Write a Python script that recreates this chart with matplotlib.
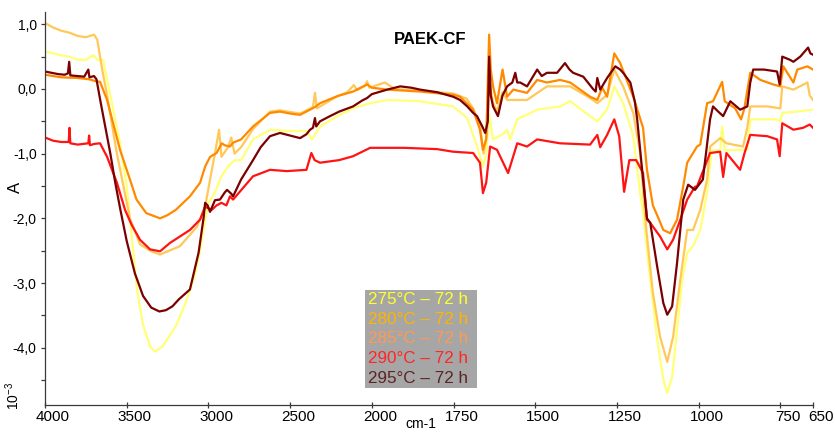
import numpy as np
import matplotlib
matplotlib.use("Agg")
import matplotlib.pyplot as plt
from matplotlib.patches import Rectangle
from matplotlib.transforms import ScaledTranslation

# ---------------- data (wavenumber cm-1, absorbance x10^-3) ----------------
labels = ["275°C \u2013 72 h", "280°C \u2013 72 h", "285°C \u2013 72 h",
          "290°C \u2013 72 h", "295°C \u2013 72 h"]
line_colors = ["#ffff78", "#ffc858", "#ff8a00", "#ff1414", "#7c0000"]
text_colors = ["#ffff30", "#ffb400", "#ff9a55", "#ff2626", "#5c2424"]

wn_275 = [4000, 3950, 3900, 3850, 3800, 3750, 3720, 3700, 3680, 3645, 3600, 3541, 3500, 3480, 3437,
          3400, 3357, 3327, 3280, 3200, 3140, 3080, 3050, 3020, 3000, 2960, 2920, 2880, 2840, 2800,
          2727, 2623, 2520, 2400, 2365, 2317, 2210, 2115, 2010, 1950, 1852, 1751, 1708, 1678, 1660,
          1650, 1641, 1629, 1600, 1586, 1577, 1555, 1494, 1424, 1393, 1332, 1310, 1280, 1258, 1231,
          1200, 1179, 1170, 1148, 1127, 1108, 1096, 1081, 1066, 1050, 1035, 1017, 995, 974, 960,
          934, 928, 920, 873, 851, 842, 760, 750, 744, 700, 650]
a_275 = [0.58, 0.55, 0.52, 0.50, 0.45, 0.45, 0.50, 0.52, 0.45, 0.45, -0.10, -0.84, -1.50, -2.00, -3.10,
         -3.65, -3.98, -4.06, -3.98, -3.67, -3.31, -2.84, -2.48, -2.02, -1.76, -1.60, -1.35, -1.20, -1.10, -1.10,
         -0.78, -0.63, -0.65, -0.65, -0.78, -0.58, -0.42, -0.30, -0.22, -0.17, -0.19, -0.27, -0.45, -0.89, -1.20,
         -1.00, -0.40, -0.78, -0.70, -0.63, -0.78, -0.47, -0.32, -0.27, -0.19, -0.42, -0.50, -0.32, 0.04, -0.22,
         -0.73, -1.60, -1.92, -2.95, -3.87, -4.49, -4.70, -4.45, -3.72, -2.95, -2.53, -2.43, -2.18, -1.60, -0.95,
         -0.95, -0.58, -0.95, -0.94, -0.94, -0.47, -0.47, -0.50, -0.37, -0.35, -0.32]

wn_280 = [4000, 3950, 3900, 3850, 3800, 3750, 3700, 3680, 3650, 3620, 3560, 3480, 3419, 3357, 3296,
          3174, 3070, 3020, 2990, 2960, 2935, 2920, 2880, 2860, 2840, 2800, 2727, 2623, 2562, 2439,
          2360, 2348, 2336, 2256, 2200, 2150, 2110, 2090, 2040, 2029, 2015, 1960, 1930, 1852, 1751,
          1710, 1690, 1669, 1658, 1648, 1641, 1630, 1617, 1600, 1586, 1525, 1464, 1393, 1332, 1310,
          1280, 1258, 1231, 1200, 1179, 1160, 1140, 1118, 1096, 1078, 1056, 1035, 1017, 995, 974,
          965, 934, 915, 864, 851, 842, 790, 750, 744, 710, 667, 660, 650]
a_280 = [1.02, 0.95, 0.90, 0.87, 0.82, 0.80, 0.84, 0.76, 0.30, -0.10, -1.00, -2.00, -2.40, -2.50, -2.56,
         -2.43, -2.13, -1.82, -1.40, -1.00, -0.63, -1.05, -0.90, -0.75, -1.00, -0.90, -0.62, -0.35, -0.33, -0.38,
         -0.28, -0.06, -0.30, -0.18, -0.10, -0.05, 0.06, -0.02, 0.05, 0.12, 0.02, 0.10, 0.00, -0.03, -0.07,
         -0.15, -0.30, -0.55, -1.00, -0.70, 0.15, -0.20, -0.35, -0.05, -0.17, -0.17, 0.04, 0.04, -0.14, -0.22,
         -0.09, 0.30, 0.04, -0.37, -0.99, -2.18, -3.15, -3.83, -4.22, -3.83, -2.95, -2.18, -2.18, -1.87, -1.40,
         -0.89, -0.76, -0.84, -0.89, -0.60, -0.27, -0.27, -0.30, 0.04, -0.01, 0.10, -0.10, -0.17]

wn_285 = [4000, 3950, 3900, 3800, 3730, 3690, 3663, 3620, 3541, 3480, 3440, 3380, 3296, 3250, 3200,
          3113, 3051, 3020, 2990, 2950, 2918, 2900, 2868, 2849, 2800, 2727, 2623, 2562, 2500, 2439,
          2378, 2348, 2317, 2210, 2115, 2029, 2000, 1953, 1852, 1751, 1730, 1690, 1669, 1660, 1650,
          1641, 1636, 1629, 1617, 1600, 1586, 1567, 1525, 1494, 1464, 1424, 1393, 1332, 1310, 1295,
          1280, 1258, 1240, 1200, 1170, 1158, 1140, 1127, 1108, 1087, 1066, 1047, 1035, 1005, 995,
          974, 956, 928, 920, 888, 870, 860, 842, 811, 772, 750, 741, 710, 698, 667, 650]
a_285 = [0.22, 0.20, 0.18, 0.17, 0.15, 0.12, 0.11, -0.17, -0.94, -1.40, -1.71, -1.92, -2.00, -1.95, -1.87,
         -1.66, -1.45, -1.20, -1.05, -0.99, -0.84, -0.87, -0.89, -0.83, -0.78, -0.58, -0.37, -0.35, -0.38, -0.40,
         -0.32, -0.28, -0.22, -0.11, -0.04, 0.07, 0.02, -0.01, -0.04, -0.09, -0.12, -0.32, -0.63, -0.94, -0.78,
         0.84, 0.30, 0.04, -0.22, 0.30, -0.12, -0.01, -0.06, 0.14, 0.10, 0.14, 0.10, -0.12, -0.17, 0.02,
         -0.12, 0.55, 0.40, -0.12, -0.60, -1.25, -1.80, -1.95, -2.18, -2.23, -2.02, -1.50, -1.14, -0.89, -0.86,
         -0.22, -0.19, 0.11, -0.19, -0.30, -0.47, -0.30, 0.25, 0.14, 0.07, 0.04, 0.35, 0.10, 0.30, 0.35, 0.30]

wn_290 = [4000, 3950, 3900, 3855, 3850, 3845, 3800, 3735, 3730, 3725, 3700, 3663, 3620, 3560, 3510,
          3470, 3419, 3357, 3296, 3235, 3113, 3051, 3020, 2980, 2950, 2920, 2890, 2868, 2849, 2727,
          2623, 2520, 2400, 2370, 2350, 2317, 2200, 2115, 2010, 1900, 1800, 1751, 1690, 1669, 1660,
          1650, 1638, 1617, 1583, 1555, 1525, 1494, 1424, 1332, 1310, 1301, 1280, 1258, 1243, 1228,
          1212, 1191, 1170, 1158, 1148, 1118, 1096, 1078, 1056, 1035, 1011, 1005, 965, 934, 925,
          915, 873, 860, 842, 790, 760, 752, 744, 710, 680, 660, 650]
a_290 = [-0.75, -0.80, -0.82, -0.82, -0.60, -0.84, -0.86, -0.84, -0.72, -0.87, -0.85, -0.84, -1.05, -1.45, -1.87,
         -2.10, -2.33, -2.48, -2.51, -2.38, -2.18, -2.02, -1.82, -1.87, -1.80, -1.76, -1.80, -1.66, -1.71, -1.35,
         -1.25, -1.27, -1.25, -0.99, -1.10, -1.14, -1.10, -1.04, -0.91, -0.91, -0.93, -0.97, -0.99, -1.14, -1.61,
         -1.45, -0.89, -0.94, -1.30, -0.84, -0.89, -0.78, -0.84, -0.86, -0.71, -0.90, -0.71, -0.47, -0.73, -1.59,
         -1.10, -1.10, -1.30, -2.02, -2.07, -2.28, -2.48, -2.33, -2.02, -1.71, -1.51, -1.51, -0.99, -0.97, -1.36,
         -0.99, -1.25, -1.00, -0.71, -0.73, -0.78, -1.04, -0.53, -0.63, -0.60, -0.55, -0.60]

wn_295 = [4000, 3960, 3920, 3880, 3860, 3852, 3845, 3800, 3760, 3735, 3728, 3700, 3685, 3660, 3630,
          3600, 3570, 3540, 3500, 3450, 3400, 3350, 3300, 3260, 3220, 3180, 3113, 3060, 3030, 3020,
          3005, 2990, 2960, 2929, 2900, 2886, 2860, 2849, 2800, 2727, 2680, 2623, 2562, 2500, 2439,
          2400, 2378, 2360, 2348, 2340, 2317, 2256, 2200, 2115, 2060, 2029, 2000, 1953, 1913, 1880,
          1852, 1800, 1751, 1730, 1708, 1690, 1678, 1662, 1653, 1645, 1641, 1636, 1629, 1614, 1600,
          1586, 1570, 1561, 1555, 1546, 1525, 1494, 1480, 1464, 1433, 1409, 1395, 1384, 1353, 1323,
          1315, 1310, 1301, 1280, 1255, 1240, 1231, 1209, 1195, 1188, 1170, 1158, 1148, 1127, 1108,
          1096, 1081, 1066, 1047, 1032, 1011, 987, 980, 965, 956, 940, 925, 903, 873, 851,
          842, 833, 800, 760, 752, 744, 720, 710, 689, 665, 658, 650]
a_295 = [0.27, 0.25, 0.23, 0.22, 0.24, 0.42, 0.21, 0.20, 0.19, 0.30, 0.18, 0.20, 0.15, -0.20, -0.60,
         -1.00, -1.45, -1.85, -2.35, -2.85, -3.20, -3.38, -3.44, -3.42, -3.36, -3.25, -3.10, -2.53, -2.00, -1.76,
         -1.80, -1.90, -1.72, -1.71, -1.60, -1.56, -1.62, -1.66, -1.40, -1.10, -0.90, -0.73, -0.68, -0.72, -0.76,
         -0.70, -0.63, -0.60, -0.45, -0.58, -0.50, -0.42, -0.35, -0.27, -0.18, -0.14, -0.08, -0.01, 0.04, 0.02,
         -0.01, -0.05, -0.12, -0.17, -0.27, -0.37, -0.42, -0.58, -0.68, -0.50, 0.50, -0.10, -0.27, -0.42, -0.10,
         0.04, 0.10, 0.25, 0.10, 0.10, 0.04, 0.30, 0.20, 0.25, 0.25, 0.40, 0.30, 0.25, 0.19, 0.00,
         -0.04, 0.17, -0.01, 0.17, 0.35, 0.30, 0.25, 0.10, -0.20, -0.47, -1.40, -2.00, -2.07, -2.74, -3.31,
         -3.49, -3.36, -2.69, -1.71, -1.48, -1.56, -1.40, -1.10, -0.47, -0.27, -0.35, -0.42, -0.19, -0.32, -0.27,
         0.10, 0.30, 0.30, 0.27, 0.07, 0.50, 0.45, 0.42, 0.50, 0.64, 0.55, 0.53]

series_wn = [wn_275, wn_280, wn_285, wn_290, wn_295]
series_a = [a_275, a_280, a_285, a_290, a_295]

xticks = [4000, 3500, 3000, 2500, 2000, 1750, 1500, 1250, 1000, 750, 650]
xticklabels = ["4000", "3500", "3000", "2500", "2000", "1750", "1500", "1250", "1000", "750", "650"]
yticks = [1.0, 0.0, -1.0, -2.0, -3.0, -4.0]
yticklabels = ["1,0", "0,0", "-1,0", "-2,0", "-3,0", "-4,0"]

# ---------------- figure ----------------
W, H = 835, 433
fig = plt.figure(figsize=(W / 100, H / 100), dpi=100)
ax = fig.add_axes([45 / W, 1 - 405 / H, (813 - 45) / W, (405 - 12) / H])

def fwd(x):
    x = np.asarray(x, dtype=float)
    return np.where(x >= 2000, x, 2 * x - 2000)

def inv(u):
    u = np.asarray(u, dtype=float)
    return np.where(u >= 2000, u, (u + 2000) / 2)

ax.set_xscale("function", functions=(fwd, inv))

for wn, a, c in zip(series_wn, series_a, line_colors):
    ax.plot(wn, a, color=c, lw=1.6, solid_joinstyle="round")

ax.set_xlim(4000, 650)
ax.set_ylim(-4.886, 1.19)

for s in ["top", "right"]:
    ax.spines[s].set_visible(False)
for s in ["left", "bottom"]:
    ax.spines[s].set_color("#3a3a3a")
    ax.spines[s].set_linewidth(0.9)

ax.set_xticks(xticks)
ax.set_xticklabels(xticklabels, fontfamily="Liberation Sans", fontsize=11)
ax.xaxis.set_minor_locator(matplotlib.ticker.NullLocator())
ax.set_yticks(yticks)
ax.set_yticklabels(yticklabels, fontfamily="Liberation Sans", fontsize=10)
ax.set_yticks(np.arange(-4.5, 1.01, 0.5), minor=True)
ax.tick_params(axis="x", direction="inout", length=5, width=0.9, color="#3a3a3a", pad=1)
ax.tick_params(axis="y", which="both", direction="out", length=3, width=0.9, color="#3a3a3a", pad=3)

off = ScaledTranslation(8 / 100, 0, fig.dpi_scale_trans)
for lab in ax.get_xticklabels():
    lab.set_transform(lab.get_transform() + off)

# texts
fig.text(430 / W, 1 - 39 / H, "PAEK-CF", ha="center", va="center",
         fontfamily="Liberation Sans", fontweight="bold", fontsize=12)
fig.text(15 / W, 1 - 187 / H, "A", ha="center", va="center", rotation=90,
         fontfamily="Liberation Sans", fontsize=12)
fig.text(13 / W, 1 - 396 / H, r"10$^{\mathregular{-3}}$", ha="center", va="center", rotation=90,
         fontfamily="Liberation Sans", fontsize=10)
fig.text(421 / W, 2 / H, "cm-1", ha="center", va="bottom",
         fontfamily="Liberation Sans", fontsize=10)

# legend box
fig.patches.append(Rectangle((365 / W, 1 - 388 / H), 112 / W, 98 / H,
                             transform=fig.transFigure, facecolor="#a6a6a6", edgecolor="none"))
for i, (lab, c) in enumerate(zip(labels, text_colors)):
    fig.text(368 / W, 1 - (299.5 + 19.7 * i) / H, lab, color=c, ha="left", va="center",
             fontfamily="Liberation Sans", fontsize=12.3)

fig.savefig("out.png", dpi=100)
